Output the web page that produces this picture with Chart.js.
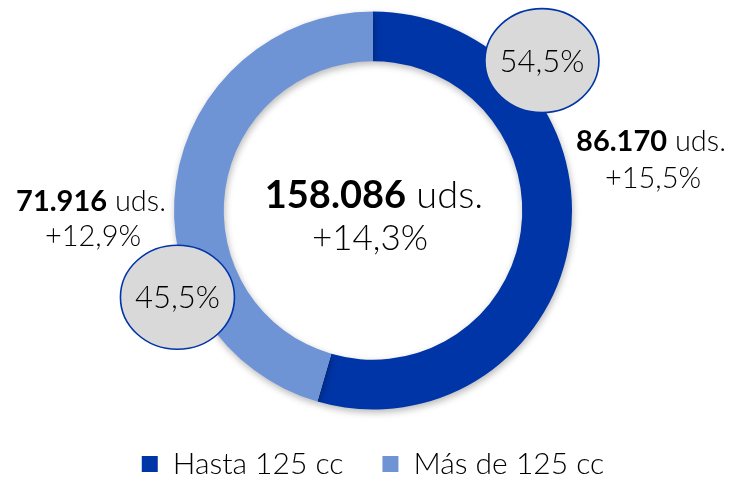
<!DOCTYPE html>
<html>
<head>
<meta charset="utf-8">
<script src="https://cdn.jsdelivr.net/npm/chart.js@4.4.1/dist/chart.umd.min.js"></script>
<style>
    html, body { margin: 0; padding: 0; background: #fff; }
    #wrap { width: 733px; height: 478px; }
</style>
</head>
<body>
<div id="wrap"><canvas id="moto-chart" width="733" height="478"></canvas></div>
<script>
    const categories = ['Hasta 125 cc', 'Más de 125 cc'];
    const units = [86170, 71916];
    const shares = [54.5, 45.5];
    const growth = [15.5, 12.9];
    const totalUnits = 158086;
    const totalGrowth = 14.3;

    const segmentColors = ['#0035A7', '#6F94D6'];
    const fontFamily = 'Lato, "Open Sans", sans-serif';

    const fmtInt = n => String(n).replace(/\B(?=(\d{3})+(?!\d))/g, '.');
    const fmtPct = n => n.toFixed(1).replace('.', ',') + '%';

    // bold number + regular suffix, centred as one line
    function mixedText(ctx, x, y, boldPart, rest, size) {
        ctx.font = '700 ' + size + 'px ' + fontFamily;
        const w1 = ctx.measureText(boldPart).width;
        ctx.font = '300 ' + size + 'px ' + fontFamily;
        const w2 = ctx.measureText(rest).width;
        let left = x - (w1 + w2) / 2;
        ctx.textAlign = 'left';
        ctx.font = '700 ' + size + 'px ' + fontFamily;
        ctx.fillText(boldPart, left, y);
        ctx.font = '300 ' + size + 'px ' + fontFamily;
        ctx.fillText(rest, left + w1, y);
    }

    const ringShadow = {
        id: 'ringShadow',
        beforeDatasetsDraw(chart) {
            const c = chart.ctx;
            c.save();
            c.shadowColor = 'rgba(0, 0, 0, 0.28)';
            c.shadowBlur = 7;
            c.shadowOffsetX = 1;
            c.shadowOffsetY = 3;
        },
        afterDatasetsDraw(chart) {
            chart.ctx.restore();
        }
    };

    // offsets of the value labels from the centre, per segment
    const sideLabelPos = [[278, -69, -32], [-282, -9, 26]];
    // bubble: angle past the segment start (rad), distance factor
    const bubblePos = [[0.845, 1.135], [0.87, 1.075]];

    const labelPlugin = {
        id: 'labelPlugin',
        afterDraw(chart) {
            const c = chart.ctx;
            const arcs = chart.getDatasetMeta(0).data;
            if (!arcs.length) return;
            const cx = arcs[0].x, cy = arcs[0].y;
            c.save();
            c.fillStyle = '#000';
            c.textBaseline = 'middle';

            // centre total
            mixedText(c, cx + 1, cy - 15, fmtInt(totalUnits), ' uds.', 38);
            c.textAlign = 'center';
            c.font = '300 35px ' + fontFamily;
            c.fillText('+' + fmtPct(totalGrowth), cx - 3, cy + 28);

            arcs.forEach((arc, i) => {
                const p = arc.getProps(['startAngle', 'outerRadius'], true);
                const a = p.startAngle + bubblePos[i][0];
                const r = p.outerRadius * bubblePos[i][1];
                const bx = cx + Math.cos(a) * r, by = cy + Math.sin(a) * r;

                c.beginPath();
                c.ellipse(bx, by, 57, 52, 0, 0, Math.PI * 2);
                c.fillStyle = '#D9D9D9';
                c.fill();
                c.lineWidth = 1.6;
                c.strokeStyle = '#0035A7';
                c.stroke();

                c.fillStyle = '#000';
                c.textAlign = 'center';
                c.font = '300 31px ' + fontFamily;
                c.fillText(fmtPct(shares[i]), bx, by + 1);

                const s = sideLabelPos[i];
                mixedText(c, cx + s[0], cy + s[1], fmtInt(units[i]), ' uds.', 29);
                c.textAlign = 'center';
                c.font = '300 29px ' + fontFamily;
                c.fillText('+' + fmtPct(growth[i]), cx + s[0] + 2, cy + s[2]);
            });
            c.restore();
        }
    };

    document.addEventListener('DOMContentLoaded', () => {
        const ctx = document.getElementById('moto-chart');

        new Chart(ctx, {
            type: 'doughnut',
            data: {
                labels: categories,
                datasets: [{
                    data: units,
                    backgroundColor: segmentColors,
                    borderWidth: 0,
                    radius: 199,
                    cutout: '75%'
                }]
            },
            options: {
                responsive: false,
                animation: false,
                layout: { padding: { top: 11, left: 13 } },
                plugins: {
                    tooltip: { enabled: false },
                    legend: {
                        position: 'bottom',
                        maxHeight: 68,
                        labels: {
                            boxWidth: 16,
                            boxHeight: 16,
                            padding: 39,
                            color: '#000',
                            font: { family: fontFamily, size: 30, weight: 300 }
                        }
                    }
                }
            },
            plugins: [ringShadow, labelPlugin]
        });
    });
</script>
</body>
</html>
